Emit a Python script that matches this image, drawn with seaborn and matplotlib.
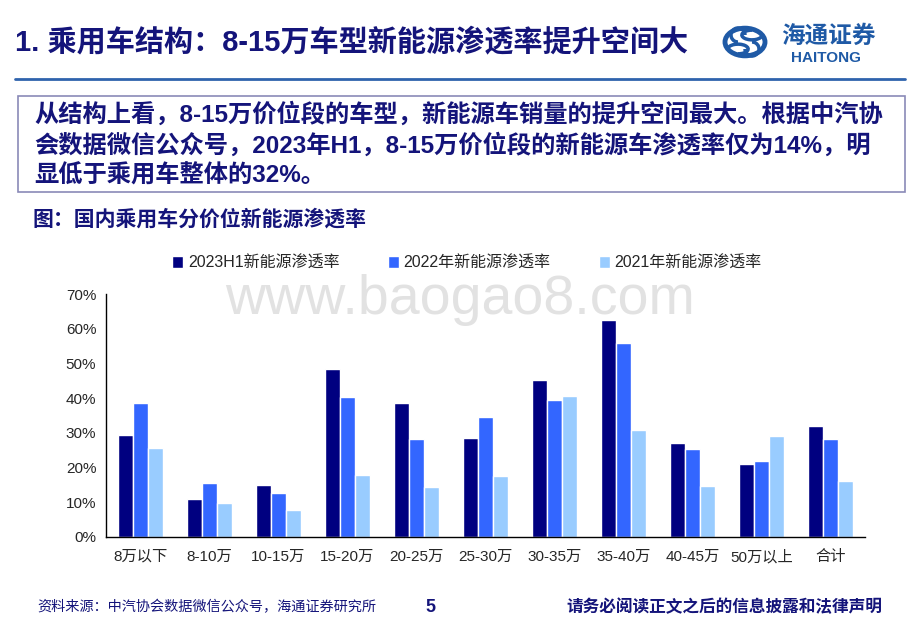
import numpy as np
import pandas as pd
import seaborn as sns
import matplotlib.pyplot as plt
from matplotlib.patches import Rectangle, Circle, Arc

# categories and series (in %)
categories = ["8万以下", "8-10万", "10-15万", "15-20万", "20-25万", "25-30万",
              "30-35万", "35-40万", "40-45万", "50万以上", "合计"]
series_names = ["2023H1新能源渗透率", "2022年新能源渗透率", "2021年新能源渗透率"]
rate_2023h1 = [29.4, 11.0, 15.1, 48.3, 38.7, 28.4, 45.2, 62.6, 27.1, 21.1, 31.9]
rate_2022 = [38.5, 15.6, 12.6, 40.3, 28.1, 34.6, 39.5, 55.9, 25.3, 22.0, 28.2]
rate_2021 = [25.6, 9.9, 7.7, 17.9, 14.5, 17.5, 40.7, 30.9, 14.6, 29.1, 16.0]
y_ticks = [0, 10, 20, 30, 40, 50, 60, 70]

colors = ["#000080", "#3366FF", "#99CCFF"]
navy = "#14147a"

df = pd.DataFrame({
    "category": categories * 3,
    "series": np.repeat(series_names, len(categories)),
    "value": rate_2023h1 + rate_2022 + rate_2021,
})

sns.set_style("white")
plt.rcParams["font.family"] = ["Liberation Sans", "Noto Sans CJK SC", "DejaVu Sans"]

W, H = 920, 636
fig = plt.figure(figsize=(W / 100, H / 100), dpi=100)


def fx(px):
    return px / W


def fy(py):
    return 1 - py / H


# header
fig.text(fx(15), fy(42), "1. 乘用车结构：8-15万车型新能源渗透率提升空间大",
         fontsize=21, fontweight="bold", color=navy, va="center", ha="left")
fig.add_artist(plt.Line2D([fx(15), fx(905)], [fy(79), fy(79)], color="#2f63ad", lw=2))

# logo (simplified)
logo_blue = "#1f5aa6"
fig.add_artist(Circle((fx(745), fy(42)), 20 / W, transform=fig.transFigure,
                      fill=False, ec=logo_blue, lw=3.5))
for dx, dy, a in [(-7, -7, 0), (7, -7, 90), (7, 7, 180), (-7, 7, 270)]:
    fig.add_artist(Arc((fx(745 + dx), fy(42 + dy)), 14 / W, 14 / H,
                       angle=a, theta1=0, theta2=270, transform=fig.transFigure,
                       color=logo_blue, lw=2.5))
fig.text(fx(828), fy(36), "海通证券", fontsize=17, color=logo_blue,
         fontstyle="italic", ha="center", va="center", fontweight="bold")
fig.text(fx(826), fy(58), "HAITONG", fontsize=11, color=logo_blue,
         fontweight="bold", ha="center", va="center")

# summary box
fig.add_artist(Rectangle((fx(18), fy(192)), fx(905) - fx(18), fy(96) - fy(192),
                         transform=fig.transFigure, fill=False, ec="#8a8ab8", lw=1.2))
box_lines = [
    "从结构上看，8-15万价位段的车型，新能源车销量的提升空间最大。根据中汽协",
    "会数据微信公众号，2023年H1，8-15万价位段的新能源车渗透率仅为14%，明",
    "显低于乘用车整体的32%。",
]
for i, line in enumerate(box_lines):
    fig.text(fx(34), fy(114 + i * 31), line, fontsize=17.5, fontweight="bold",
             color=navy, va="center", ha="left")

fig.text(fx(33), fy(219), "图：国内乘用车分价位新能源渗透率", fontsize=15,
         fontweight="bold", color=navy, va="center", ha="left")

# watermark
fig.text(fx(460), fy(300), "www.baogao8.com", fontsize=40, color="#e2e2e2",
         ha="center", va="center", zorder=0)

# chart
ax = fig.add_axes([fx(106), fy(537), fx(865) - fx(106), fy(294) - fy(537)])
ax.patch.set_alpha(0)
sns.barplot(data=df, x="category", y="value", hue="series", palette=colors,
            saturation=1, width=0.66, edgecolor="white", linewidth=1, ax=ax)

ax.set_xlim(-0.5, len(categories) - 0.5)
ax.set_ylim(0, 70)
ax.set_yticks(y_ticks)
ax.set_yticklabels([f"{v}%" for v in y_ticks], fontsize=11)
ax.set_xticks(range(len(categories)))
ax.set_xticklabels(categories, fontsize=11)
ax.set_xticks(np.arange(-0.5, len(categories), 1), minor=True)
ax.tick_params(axis="x", which="major", length=0, pad=9)
ax.tick_params(axis="x", which="minor", length=5, width=1, color="black", direction="out")
ax.tick_params(axis="y", length=4, width=1, color="black", direction="out", pad=3)
ax.set_xlabel("")
ax.set_ylabel("")
for s in ["top", "right"]:
    ax.spines[s].set_visible(False)
for s in ["left", "bottom"]:
    ax.spines[s].set_color("black")
    ax.spines[s].set_linewidth(1)

handles, labels = ax.get_legend_handles_labels()
ax.legend(handles, labels, ncol=3, frameon=False, fontsize=11.5,
          loc="center", bbox_to_anchor=(fx(467), fy(263)), bbox_transform=fig.transFigure,
          handlelength=0.7, handleheight=0.7, handletextpad=0.3, columnspacing=3.0)

# footer
fig.text(fx(37), fy(607), "资料来源：中汽协会数据微信公众号，海通证券研究所", fontsize=10.2,
         color=navy, va="center", ha="left")
fig.text(fx(430), fy(607), "5", fontsize=13, fontweight="bold", color=navy,
         va="center", ha="center")
fig.text(fx(882), fy(607), "请务必阅读正文之后的信息披露和法律声明", fontsize=12,
         fontweight="bold", color=navy, va="center", ha="right")

fig.savefig("out.png", dpi=100)
